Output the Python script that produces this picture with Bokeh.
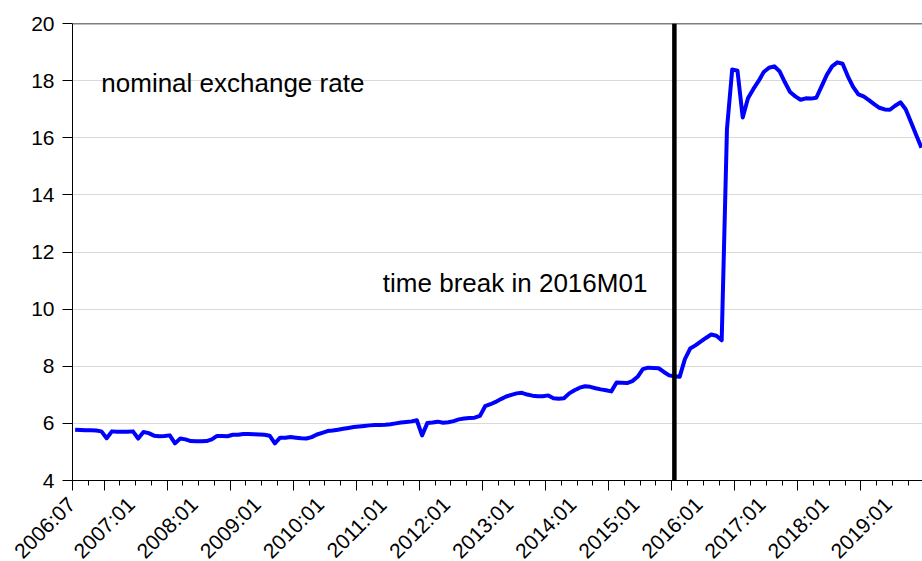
import numpy as np
from bokeh.plotting import figure
from bokeh.layouts import column
from bokeh.models import (ColumnDataSource, FixedTicker, Range1d, Span, Label)
from bokeh.core.properties import value
from bokeh.embed import file_html
from bokeh.resources import INLINE

# Monthly nominal exchange rate, starting 2006:07
start_year, start_month = 2006, 7
rate = [
    5.78, 5.77, 5.76, 5.76, 5.75, 5.72,
    5.48, 5.72, 5.71, 5.71, 5.71, 5.72,
    5.47, 5.70, 5.66, 5.57, 5.55, 5.56,
    5.58, 5.30, 5.47, 5.44, 5.38, 5.37,
    5.37, 5.38, 5.44, 5.56, 5.56, 5.55,
    5.60, 5.60, 5.63, 5.63, 5.62, 5.61,
    5.60, 5.57, 5.30, 5.50, 5.50, 5.52,
    5.50, 5.48, 5.47, 5.52, 5.61, 5.67,
    5.73, 5.75, 5.78, 5.81, 5.84, 5.87,
    5.89, 5.91, 5.93, 5.94, 5.94, 5.95,
    5.97, 6.00, 6.03, 6.05, 6.07, 6.11,
    5.58, 6.01, 6.03, 6.06, 6.02, 6.04,
    6.08, 6.14, 6.17, 6.19, 6.20, 6.26,
    6.60, 6.67, 6.75, 6.85, 6.94, 7.00,
    7.05, 7.07, 7.01, 6.97, 6.95, 6.95,
    6.98, 6.88, 6.86, 6.88, 7.05, 7.16,
    7.25, 7.30, 7.28, 7.23, 7.19, 7.16,
    7.12, 7.43, 7.42, 7.41, 7.48, 7.63,
    7.90, 7.95, 7.94, 7.93, 7.80, 7.68,
    7.65, 7.63, 8.25, 8.62, 8.73, 8.86,
    8.99, 9.11, 9.07, 8.91, 16.30, 18.39,
    18.35, 16.71, 17.38, 17.70, 17.98, 18.30,
    18.45, 18.50, 18.33, 17.95, 17.60, 17.45,
    17.33, 17.38, 17.37, 17.40, 17.80, 18.20,
    18.50, 18.64, 18.59, 18.15, 17.78, 17.52,
    17.45, 17.32, 17.18, 17.05, 16.99, 16.98,
    17.12, 17.24, 17.00, 16.55, 16.10, 15.65,
]

tick_labels = ["2006:07", "2007:01", "2008:01", "2009:01", "2010:01", "2011:01",
               "2012:01", "2013:01", "2014:01", "2015:01", "2016:01", "2017:01",
               "2018:01", "2019:01"]
y_ticks = [4, 6, 8, 10, 12, 14, 16, 18, 20]
break_period = "2016:01"


def month_index(label):
    y, m = label.split(":")
    return (int(y) - start_year) * 12 + (int(m) - start_month)


# observations sit in the middle of each month; ticks mark month boundaries
x = np.arange(len(rate))
src = ColumnDataSource(dict(x=x, rate=rate))

major_pos = [month_index(t) - 0.5 for t in tick_labels]
minor_pos = [-0.5 + 3 * k for k in range(0, 60)]

FONT = "Liberation Sans"
W = 922
LEFT = 72
X0, X1 = -0.5, 161.2
PX_PER_MONTH = (W - LEFT) / (X1 - X0)
MAIN_H, STRIP_H = 491, 70

p = figure(width=W, height=MAIN_H, output_backend="svg", toolbar_location=None,
           x_range=Range1d(X0, X1), y_range=Range1d(4, 20),
           min_border_left=LEFT, min_border_right=0, min_border_top=23,
           min_border_bottom=11)
p.frame_align = False
p.outline_line_color = None
p.background_fill_color = "white"
p.border_fill_color = "white"

p.line("x", "rate", source=src, line_color="#0000ff", line_width=4,
       line_join="round")

# break marker
p.add_layout(Span(location=month_index(break_period), dimension="height",
                  line_color="black", line_width=4.5))
# top border of the frame
p.add_layout(Span(location=20, dimension="width", line_color="black",
                  line_width=1.5))

# y axis
p.yaxis.ticker = FixedTicker(ticks=y_ticks)
p.yaxis.major_tick_out = 10
p.yaxis.major_tick_in = 0
p.yaxis.minor_tick_line_color = None
p.yaxis.major_label_standoff = 8
p.yaxis.axis_line_color = "black"
p.yaxis.major_tick_line_color = "black"
p.yaxis.major_label_text_font = FONT
p.yaxis.major_label_text_font_size = "21px"
p.yaxis.major_label_text_color = "black"

# x axis: ticks only, the slanted date labels sit in a strip underneath
p.xaxis.ticker = FixedTicker(ticks=major_pos, minor_ticks=minor_pos)
p.xaxis.major_label_overrides = {pos: "" for pos in major_pos}
p.xaxis.major_label_text_font_size = "0px"
p.xaxis.major_label_standoff = 0
p.xaxis.major_tick_out = 10
p.xaxis.major_tick_in = 0
p.xaxis.minor_tick_out = 5
p.xaxis.minor_tick_in = 0
p.xaxis.axis_line_color = "black"
p.xaxis.major_tick_line_color = "black"
p.xaxis.minor_tick_line_color = "black"

# grid
p.xgrid.grid_line_color = None
p.ygrid.ticker = FixedTicker(ticks=y_ticks)
p.ygrid.grid_line_color = "#d9d9d9"
p.ygrid.grid_line_width = 1.2

# annotations
p.add_layout(Label(x=30.0, y=17.93, text="nominal exchange rate", text_font=FONT,
                   text_font_size="26px", text_color="black", text_align="center",
                   text_baseline="alphabetic"))
p.add_layout(Label(x=83.7, y=10.9, text="time break in 2016M01", text_font=FONT,
                   text_font_size="26px", text_color="black", text_align="center",
                   text_baseline="alphabetic"))

# strip with the slanted date labels, same month scale across the full width
strip = figure(width=W, height=STRIP_H, output_backend="svg", toolbar_location=None,
               x_range=Range1d(X0 - LEFT / PX_PER_MONTH, X1),
               y_range=Range1d(0, STRIP_H),
               min_border_left=0, min_border_right=0, min_border_top=0,
               min_border_bottom=0, x_axis_location=None, y_axis_location=None)
strip.frame_align = False
strip.outline_line_color = None
strip.grid.visible = False
strip.background_fill_color = "white"
strip.border_fill_color = "white"

label_y = STRIP_H - 36
lab_src = ColumnDataSource(dict(x=major_pos[1:], text=tick_labels[1:]))
label_style = dict(angle=np.pi / 4, text_align="center", text_baseline="middle",
                   text_font=value(FONT), text_font_size=value("21px"),
                   text_color="black")
strip.text(x="x", y=label_y, text="text", source=lab_src, **label_style)
# the first label is nudged left so that it clears its neighbour
first_src = ColumnDataSource(dict(x=major_pos[:1], text=tick_labels[:1]))
strip.text(x="x", y=label_y, text="text", source=first_src, x_offset=-28,
           **label_style)

layout = column(p, strip, spacing=0)
open("out.html", "w").write(file_html(layout, INLINE))
